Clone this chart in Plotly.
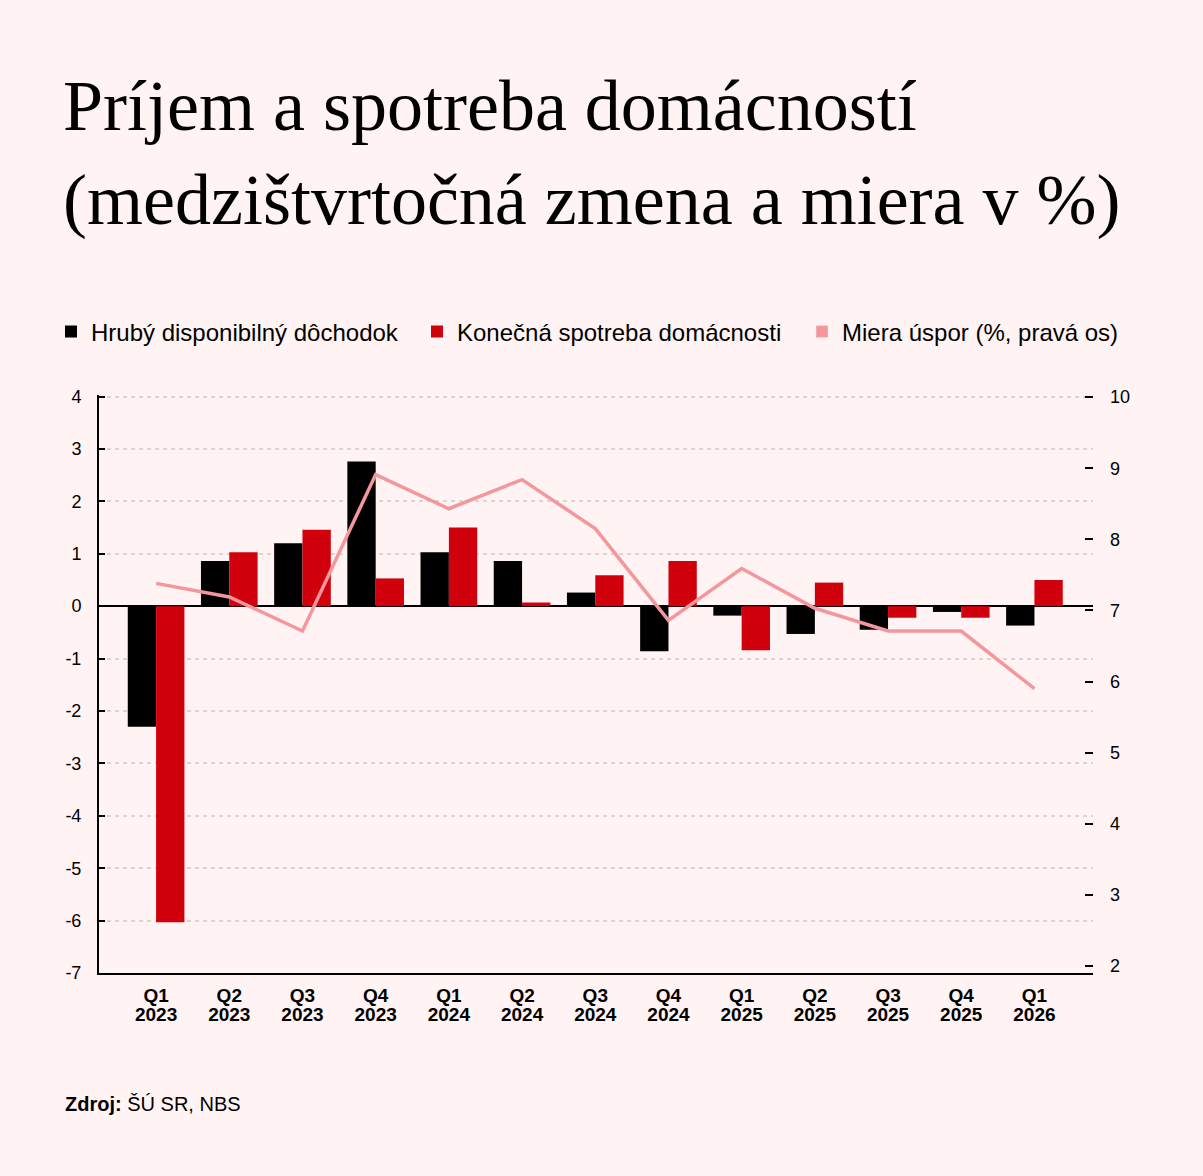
import plotly.graph_objects as go

# quarters shown on the x axis
periods = ['Q1 2023', 'Q2 2023', 'Q3 2023', 'Q4 2023', 'Q1 2024', 'Q2 2024', 'Q3 2024',
           'Q4 2024', 'Q1 2025', 'Q2 2025', 'Q3 2025', 'Q4 2025', 'Q1 2026']
quarter_labels = ['Q1', 'Q2', 'Q3', 'Q4', 'Q1', 'Q2', 'Q3', 'Q4', 'Q1', 'Q2', 'Q3', 'Q4', 'Q1']
year_labels = ['2023', '2023', '2023', '2023', '2024', '2024', '2024',
               '2024', '2025', '2025', '2025', '2025', '2026']

# y/y change in %
income = [-2.30, 0.86, 1.20, 2.76, 1.03, 0.86, 0.26, -0.86, -0.18, -0.53, -0.45, -0.11, -0.37]
consumption = [-6.03, 1.03, 1.46, 0.53, 1.50, 0.07, 0.59, 0.86, -0.84, 0.45, -0.22, -0.22, 0.50]
# saving rate in % (right axis)
saving_rate = [7.38, 7.19, 6.71, 8.91, 8.43, 8.84, 8.15, 6.86, 7.59, 7.03, 6.71, 6.71, 5.90]

left_ticks = [4, 3, 2, 1, 0, -1, -2, -3, -4, -5, -6, -7]
right_ticks = [2, 3, 4, 5, 6, 7, 8, 9, 10]

BG = '#fff3f3'
BLACK = '#000000'
RED = '#d1000d'
PINK = '#f4979c'
SANS = 'Liberation Sans, Arial, sans-serif'

fig = go.Figure()

fig.add_trace(go.Bar(x=periods, y=income, name='Hrubý disponibilný dôchodok',
                     marker=dict(color=BLACK, line=dict(width=0)), legendwidth=321))
fig.add_trace(go.Bar(x=periods, y=consumption, name='Konečná spotreba domácnosti',
                     marker=dict(color=RED, line=dict(width=0)), legendwidth=340))

# legend entry for the line drawn as a square, like the original
fig.add_trace(go.Bar(x=[periods[0]], y=[None], name='Miera úspor (%, pravá os)',
                     marker=dict(color=PINK), xaxis='x2', yaxis='y2', hoverinfo='skip'))
fig.add_trace(go.Scatter(x=periods, y=saving_rate, mode='lines', name='Miera úspor (%, pravá os)',
                         line=dict(color=PINK, width=3.5), xaxis='x2', yaxis='y2', showlegend=False))

x_range = [-0.78, 12.8]

fig.update_layout(
    width=1203, height=1176, autosize=False,
    paper_bgcolor=BG, plot_bgcolor=BG,
    margin=dict(l=99, r=110, t=395, b=203),
    barmode='group', bargap=0.226, bargroupgap=0,
    font=dict(family=SANS, color=BLACK, size=18),
    title=dict(text='Príjem a spotreba domácností<br>(medzištvrtočná zmena a miera v %)',
               font=dict(family='Liberation Serif, Times New Roman, serif', size=72, color=BLACK),
               xref='container', yref='container', x=63 / 1203, xanchor='left',
               y=1 - 130 / 1176, yanchor='top'),
    # paper coords left of / above the plot so the legend may use the full width
    legend=dict(orientation='h', xref='paper', yref='paper',
                x=(51 - 99) / 994, xanchor='left', y=(973 - 332) / 578, yanchor='middle',
                font=dict(family=SANS, size=24, color=BLACK), bgcolor='rgba(0,0,0,0)',
                itemclick=False),
    xaxis=dict(range=x_range, tickmode='array', tickvals=periods, ticktext=quarter_labels,
               tickfont=dict(family=SANS, size=19, color=BLACK, weight='bold'),
               showline=True, linecolor=BLACK, linewidth=2, ticks='', showgrid=False,
               ticklabelstandoff=4, fixedrange=True),
    xaxis2=dict(range=x_range, overlaying='x', side='bottom', anchor='y2',
                tickmode='array', tickvals=periods, ticktext=year_labels,
                tickfont=dict(family=SANS, size=19, color=BLACK, weight='bold'),
                showline=False, ticks='', showgrid=False, ticklabelstandoff=28,
                fixedrange=True),
    yaxis=dict(range=[-7, 4.03], tickmode='array', tickvals=left_ticks,
               ticktext=[str(v) for v in left_ticks],
               showline=True, linecolor=BLACK, linewidth=2,
               ticks='inside', ticklen=6, tickwidth=2, tickcolor=BLACK,
               showgrid=True, gridcolor='#ddd3d3', gridwidth=1.5, griddash='4px,4px',
               zeroline=True, zerolinecolor=BLACK, zerolinewidth=2,
               ticklabelstandoff=12, tickfont=dict(size=18), fixedrange=True),
    yaxis2=dict(range=[1.9, 10.03], overlaying='y', side='right', anchor='x2',
                tickmode='array', tickvals=right_ticks,
                showline=False, showgrid=False, zeroline=False,
                ticks='inside', ticklen=8, tickwidth=2, tickcolor=BLACK,
                ticklabelstandoff=16, tickfont=dict(size=18), fixedrange=True),
)

fig.add_annotation(text='<b>Zdroj:</b> ŠÚ SR, NBS', xref='paper', yref='paper',
                   x=(63 - 99) / 994, xanchor='left', y=-(1104 - 973) / 578, yanchor='middle',
                   showarrow=False, font=dict(family=SANS, size=20, color=BLACK))

fig.write_html('out.html', config={'displayModeBar': False},
               post_script="document.body.style.margin='0';")
